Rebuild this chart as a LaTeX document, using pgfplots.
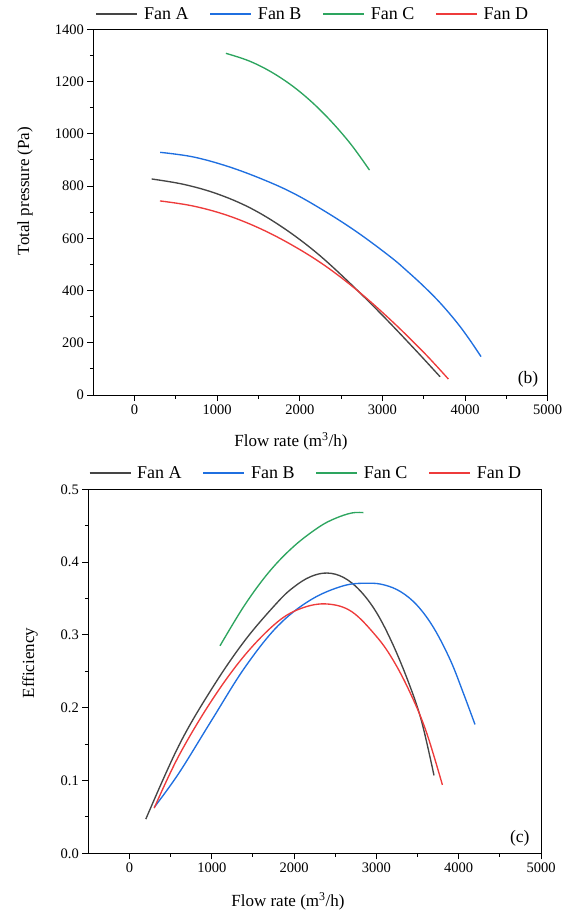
\documentclass[border=0pt]{standalone}
\usepackage{fontspec}
\setmainfont{Liberation Serif}
\usepackage{pgfplots}
\pgfplotsset{compat=1.18}

\definecolor{fanA}{HTML}{454545}
\definecolor{fanB}{HTML}{1F6FE0}
\definecolor{fanC}{HTML}{2DA55F}
\definecolor{fanD}{HTML}{EE3B3B}

\pgfplotsset{
  fanaxis/.style={
    scale only axis,
    xmin=-500, xmax=5000,
    xtick={0,1000,...,5000},
    minor x tick num=1,
    minor y tick num=1,
    xtick pos=left, ytick pos=left,
    tick align=outside,
    major tick length=6pt,
    minor tick length=3.5pt,
    tick style={black, line width=0.9pt},
    axis line style={line width=1pt},
    tick label style={font=\fontsize{14.5}{16}\selectfont},
    label style={font=\fontsize{17}{20}\selectfont},
    /pgf/number format/assume math mode=true,
    /pgf/number format/1000 sep={},
    legend columns=4,
    legend style={draw=none, fill=none, font=\fontsize{18}{20}\selectfont,
      /tikz/every odd column/.append style={column sep=4pt},
      /tikz/every even column/.append style={column sep=19pt}},
    legend image code/.code={\draw[#1] (0pt,0pt) -- (41pt,0pt);},
    fan/.style={line width=1.35pt, smooth, tension=0.6},
  }
}

\begin{document}
\begin{tikzpicture}
\useasboundingbox (0pt,0pt) rectangle (574pt,-915pt);

% (b) total pressure
\begin{axis}[fanaxis,
  at={(93.3pt,-395pt)}, anchor=south west,
  width=454.4pt, height=365.7pt,
  ymin=0, ymax=1400, ytick={0,200,...,1400},
  xlabel={Flow rate (m\textsuperscript{3}/h)},
  ylabel={Total pressure (Pa)},
  xlabel style={at={(axis description cs:0.435,-0.126)}, anchor=center},
  ylabel style={at={(axis description cs:-0.150,0.558)}, anchor=center},
  legend style={at={(0.4835,1.042)}, anchor=center},
]
\addplot[fan, fanA] coordinates {(206,827) (600,806) (1000,770) (1400,716) (1800,640) (2200,545) (2600,430) (3000,305) (3400,172) (3697,70)};
\addlegendentry{Fan A}
\addplot[fan, fanB] coordinates {(310,929) (700,912) (1100,878) (1500,832) (1900,776) (2300,704) (2700,622) (3100,528) (3300,474) (3500,416) (3700,352) (3900,278) (4050,214) (4193,147)};
\addlegendentry{Fan B}
\addplot[fan, fanC] coordinates {(1105,1308) (1400,1277) (1700,1228) (2000,1161) (2300,1074) (2600,967) (2843,861)};
\addlegendentry{Fan C}
\addplot[fan, fanD] coordinates {(307,743) (700,724) (1100,690) (1500,640) (1900,575) (2300,496) (2700,399) (3100,287) (3500,163) (3798,61)};
\addlegendentry{Fan D}
\node[anchor=south east, font=\fontsize{17.5}{20}\selectfont] at (rel axis cs:1,0) [xshift=-6pt, yshift=4pt] {(b)};
\end{axis}

% (c) efficiency
\begin{axis}[fanaxis,
  at={(88.3pt,-853.3pt)}, anchor=south west,
  width=452.7pt, height=364pt,
  ymin=0, ymax=0.5, ytick={0,0.1,...,0.5},
  yticklabel style={/pgf/number format/fixed, /pgf/number format/fixed zerofill, /pgf/number format/precision=1},
  xlabel={Flow rate (m\textsuperscript{3}/h)},
  ylabel={Efficiency},
  xlabel style={at={(axis description cs:0.441,-0.133)}, anchor=center},
  ylabel style={at={(axis description cs:-0.129,0.523)}, anchor=center},
  legend style={at={(0.481,1.045)}, anchor=center},
]
\addplot[fan, fanA] coordinates {(199,0.047) (600,0.148) (1000,0.226) (1400,0.292) (1800,0.345) (2000,0.366) (2200,0.380) (2400,0.385) (2600,0.379) (2800,0.361) (3000,0.331) (3200,0.287) (3400,0.232) (3550,0.181) (3700,0.107)};
\addlegendentry{Fan A}
\addplot[fan, fanB] coordinates {(300,0.063) (600,0.110) (1000,0.183) (1400,0.255) (1800,0.312) (2200,0.348) (2600,0.3675) (2900,0.371) (3100,0.3685) (3300,0.359) (3500,0.340) (3700,0.309) (3900,0.265) (4050,0.222) (4198,0.177)};
\addlegendentry{Fan B}
\addplot[fan, fanC] coordinates {(1100,0.285) (1400,0.341) (1700,0.387) (2000,0.422) (2300,0.448) (2500,0.460) (2700,0.4675) (2842,0.468)};
\addlegendentry{Fan C}
\addplot[fan, fanD] coordinates {(300,0.062) (600,0.134) (1000,0.210) (1400,0.272) (1800,0.318) (2100,0.337) (2400,0.3425) (2700,0.332) (3000,0.298) (3200,0.266) (3400,0.223) (3600,0.169) (3802,0.094)};
\addlegendentry{Fan D}
\node[anchor=south east, font=\fontsize{17.5}{20}\selectfont] at (rel axis cs:1,0) [xshift=-8pt, yshift=4pt] {(c)};
\end{axis}
\end{tikzpicture}
\end{document}
